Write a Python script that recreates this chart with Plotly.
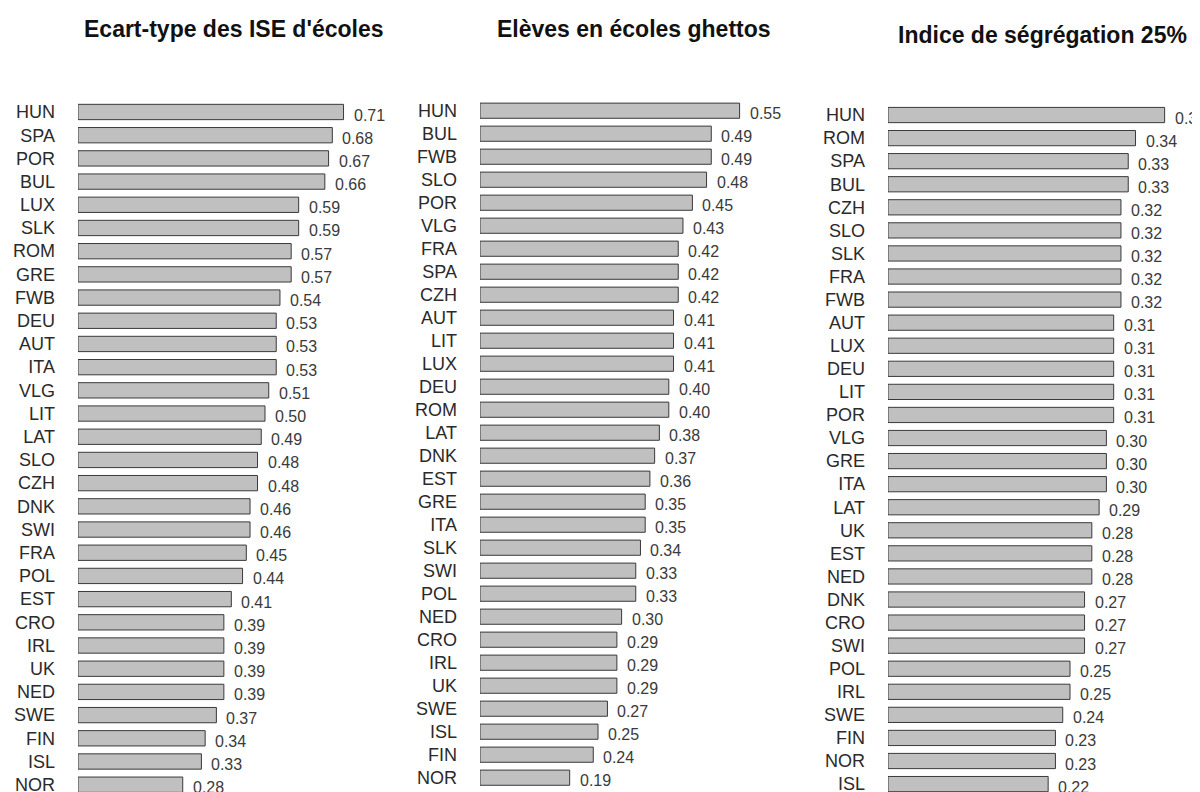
import plotly.graph_objects as go

# ---- Data ----
titles = ["Ecart-type des ISE d'écoles", "Elèves en écoles ghettos", "Indice de ségrégation 25%"]

countries_1 = ["HUN", "SPA", "POR", "BUL", "LUX", "SLK", "ROM", "GRE", "FWB", "DEU",
               "AUT", "ITA", "VLG", "LIT", "LAT", "SLO", "CZH", "DNK", "SWI", "FRA",
               "POL", "EST", "CRO", "IRL", "UK", "NED", "SWE", "FIN", "ISL", "NOR"]
values_1 = [0.71, 0.68, 0.67, 0.66, 0.59, 0.59, 0.57, 0.57, 0.54, 0.53,
            0.53, 0.53, 0.51, 0.50, 0.49, 0.48, 0.48, 0.46, 0.46, 0.45,
            0.44, 0.41, 0.39, 0.39, 0.39, 0.39, 0.37, 0.34, 0.33, 0.28]

countries_2 = ["HUN", "BUL", "FWB", "SLO", "POR", "VLG", "FRA", "SPA", "CZH", "AUT",
               "LIT", "LUX", "DEU", "ROM", "LAT", "DNK", "EST", "GRE", "ITA", "SLK",
               "SWI", "POL", "NED", "CRO", "IRL", "UK", "SWE", "ISL", "FIN", "NOR"]
values_2 = [0.55, 0.49, 0.49, 0.48, 0.45, 0.43, 0.42, 0.42, 0.42, 0.41,
            0.41, 0.41, 0.40, 0.40, 0.38, 0.37, 0.36, 0.35, 0.35, 0.34,
            0.33, 0.33, 0.30, 0.29, 0.29, 0.29, 0.27, 0.25, 0.24, 0.19]

countries_3 = ["HUN", "ROM", "SPA", "BUL", "CZH", "SLO", "SLK", "FRA", "FWB", "AUT",
               "LUX", "DEU", "LIT", "POR", "VLG", "GRE", "ITA", "LAT", "UK", "EST",
               "NED", "DNK", "CRO", "SWI", "POL", "IRL", "SWE", "FIN", "NOR", "ISL"]
values_3 = [0.38, 0.34, 0.33, 0.33, 0.32, 0.32, 0.32, 0.32, 0.32, 0.31,
            0.31, 0.31, 0.31, 0.31, 0.30, 0.30, 0.30, 0.29, 0.28, 0.28,
            0.28, 0.27, 0.27, 0.27, 0.25, 0.25, 0.24, 0.23, 0.23, 0.22]

panels = [(countries_1, values_1), (countries_2, values_2), (countries_3, values_3)]

# ---- Layout geometry (figure is offset by the 8px page margin) ----
W, H = 1200, 792
x_domains = [[70 / W, 390 / W], [472 / W, 782 / W], [880 / W, 1.0]]
x_ranges = [[0, 320 / 374], [0, 310 / 472], [0, 320 / 728]]
y_domains = [[0, 1 - 92.4 / H], [0, 1 - 91.2 / H], [0, 1 - 95.5 / H]]
y_ranges = [[29.66, -0.5], [29.97, -0.5], [29.69, -0.5]]
title_pos = [(225, 21.5), (625.5, 20.7), (1034.5, 27)]

FONT = "Liberation Sans, Arial, sans-serif"

fig = go.Figure()
annotations = []
for i, (cats, vals) in enumerate(panels):
    n = "" if i == 0 else str(i + 1)
    fig.add_trace(go.Bar(
        x=vals, y=cats, orientation="h",
        xaxis="x" + n, yaxis="y" + n,
        width=0.66,
        marker=dict(color="#c0c0c0", line=dict(color="#3a3a3a", width=1)),
        hoverinfo="x+y", showlegend=False,
    ))
    for c, v in zip(cats, vals):
        annotations.append(dict(
            x=v, y=c, xref="x" + n, yref="y" + n,
            text=f"{v:.2f}", showarrow=False,
            xanchor="left", yanchor="middle", xshift=8, yshift=-3,
            font=dict(family=FONT, size=16, color="#3a3a3a"),
        ))
    tx, ty = title_pos[i]
    annotations.append(dict(
        x=tx / W, y=1 - ty / H, xref="paper", yref="paper",
        text="<b>" + titles[i] + "</b>", showarrow=False,
        xanchor="center", yanchor="middle",
        font=dict(family=FONT, size=23, color="#111111"),
    ))

layout = dict(
    width=W, height=H,
    margin=dict(l=0, r=0, t=0, b=0),
    paper_bgcolor="white", plot_bgcolor="white",
    annotations=annotations,
    font=dict(family=FONT),
)
for i in range(3):
    n = "" if i == 0 else str(i + 1)
    layout["xaxis" + n] = dict(
        domain=x_domains[i], range=x_ranges[i], anchor="y" + n,
        visible=False, showgrid=False, zeroline=False, fixedrange=True,
    )
    layout["yaxis" + n] = dict(
        domain=y_domains[i], range=y_ranges[i], anchor="x" + n,
        type="category", showgrid=False, zeroline=False, showline=False,
        ticks="", ticklabelstandoff=22, automargin=False,
        tickfont=dict(family=FONT, size=18, color="#2a2a2a"),
        fixedrange=True,
    )
fig.update_layout(**layout)

fig.write_html("out.html")
